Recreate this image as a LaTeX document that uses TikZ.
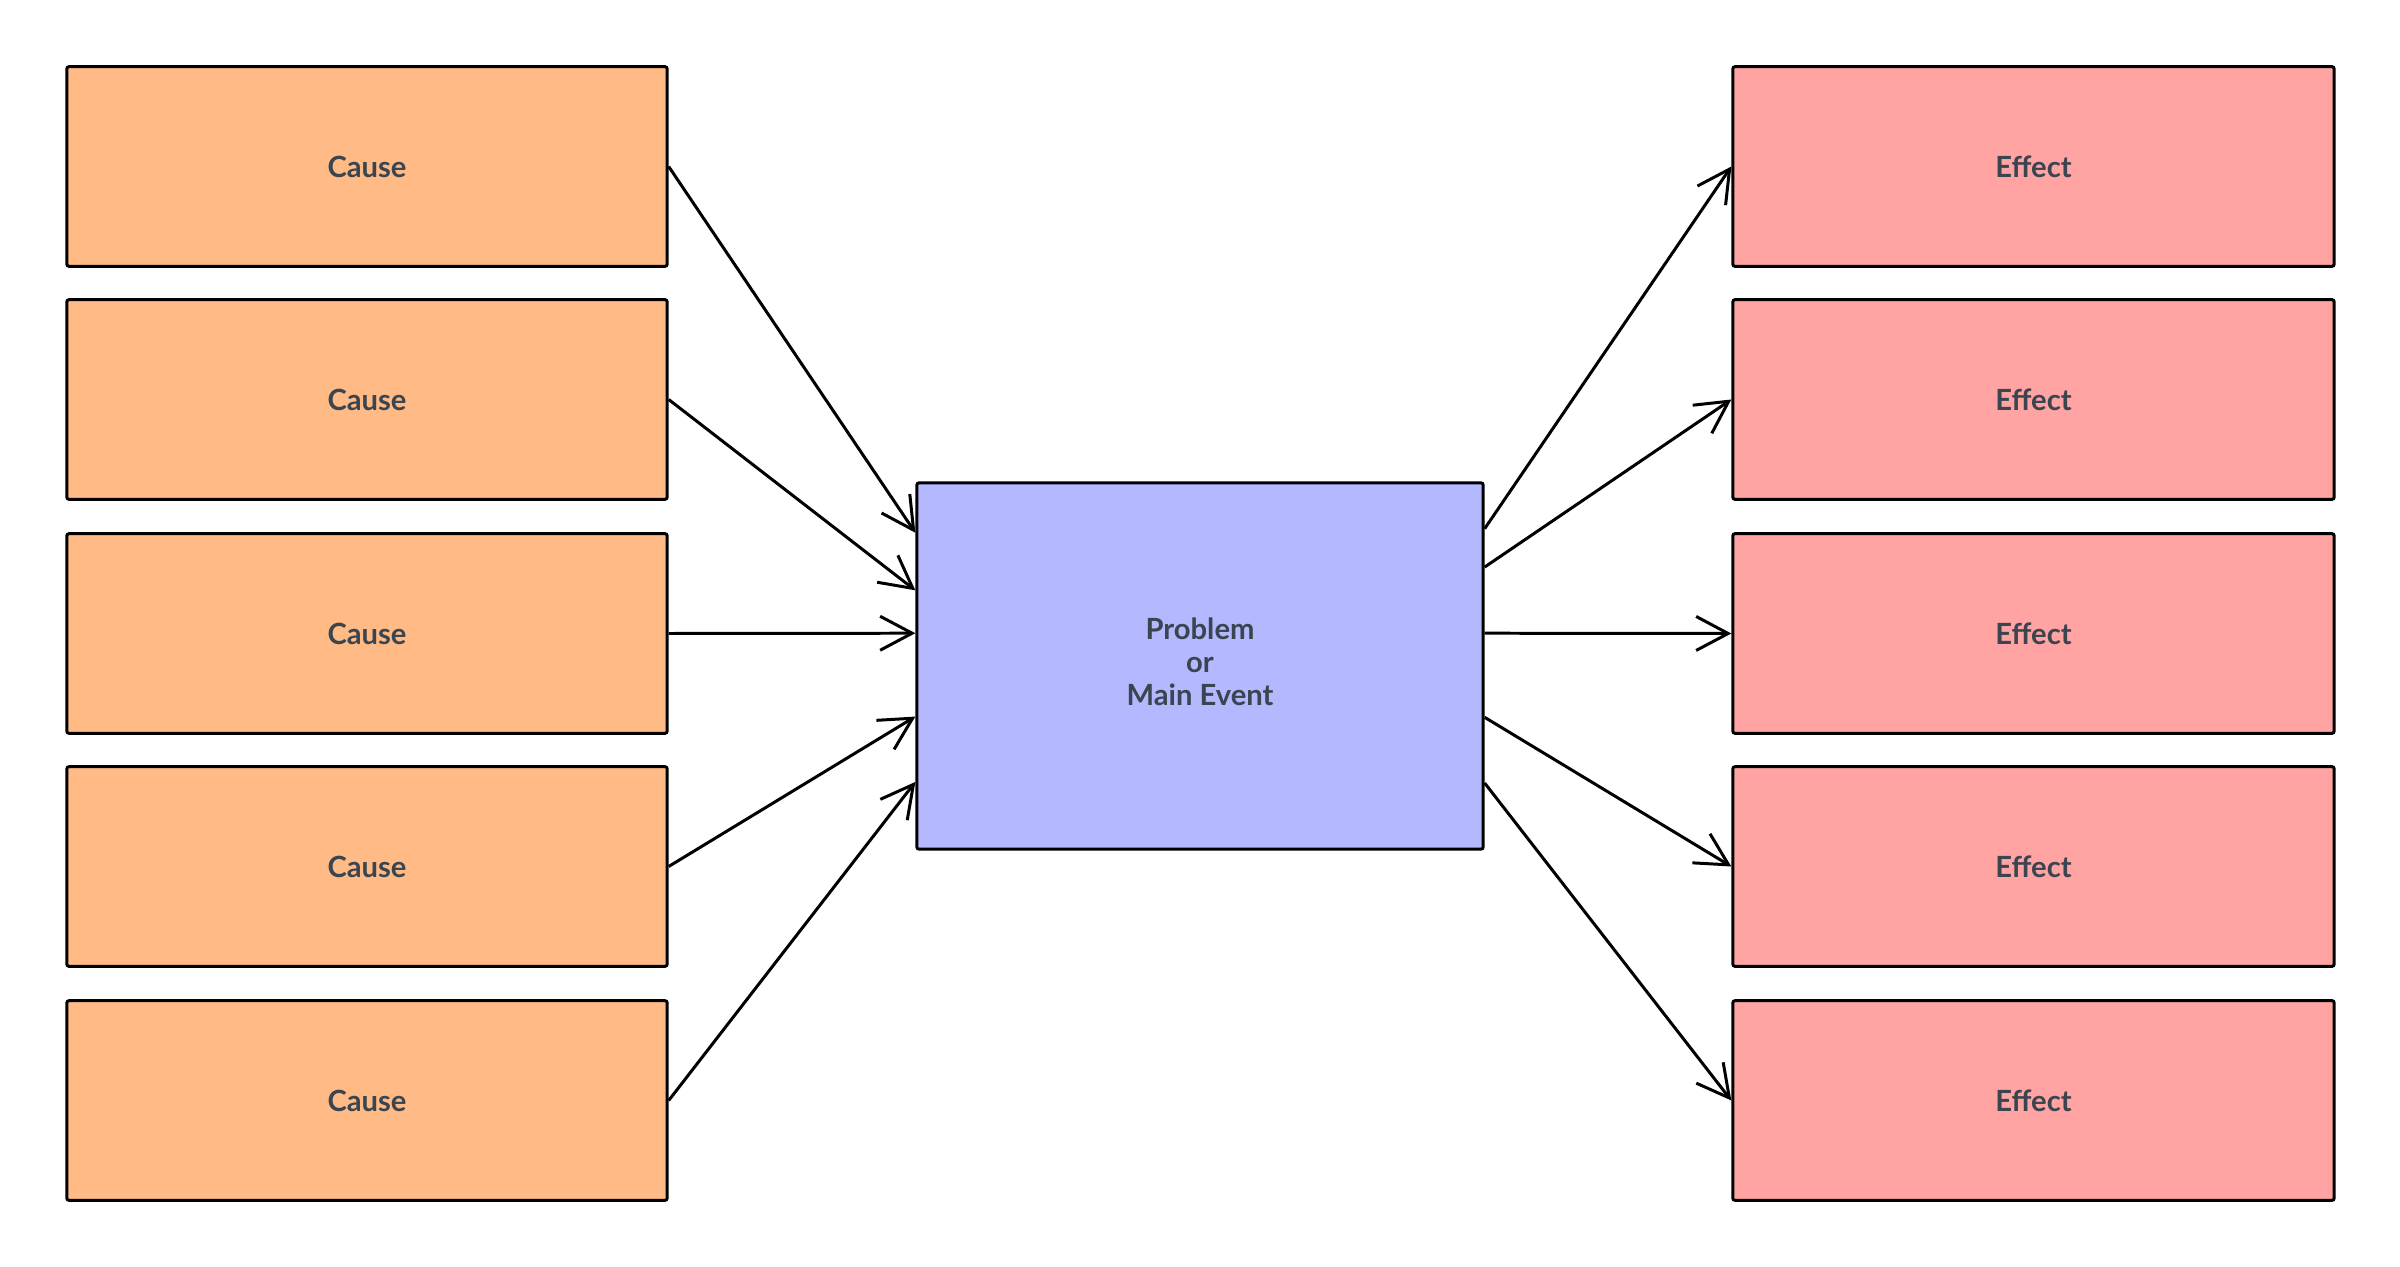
\documentclass[tikz,border=0pt]{standalone}
\usepackage{fontspec}
\setmainfont{Lato}[BoldFont={Lato Bold}]
\usetikzlibrary{arrows.meta,calc}
\definecolor{causefill}{HTML}{FFBA85}
\definecolor{effectfill}{HTML}{FFA3A3}
\definecolor{mainfill}{HTML}{B4B8FF}
\definecolor{txt}{HTML}{3A4550}
\tikzset{
  box/.style={draw=black, line width=0.85pt, rounded corners=0.6pt, inner sep=0pt,
    font=\fontsize{8.3}{9.3}\selectfont\bfseries, text=txt, align=center},
  causebox/.style={box, fill=causefill, minimum width=6cm, minimum height=1.995cm},
  effectbox/.style={box, fill=effectfill, minimum width=6.01cm, minimum height=1.995cm},
  mainbox/.style={box, fill=mainfill, minimum width=5.66cm, minimum height=3.66cm},
  conn/.style={draw=black, line width=0.85pt, -{Straight Barb[length=0.32cm, width=0.34cm, line width=0.85pt]}}
}
\begin{document}
\begin{tikzpicture}[x=0.01cm, y=-0.01cm]
\useasboundingbox (0,0) rectangle (2400,1267);
% causes
\node[causebox] (c1) at (367,166.5) {Cause};
\node[causebox] (c2) at (367,399.5) {Cause};
\node[causebox] (c3) at (367,633.5) {Cause};
\node[causebox] (c4) at (367,866.5) {Cause};
\node[causebox] (c5) at (367,1100.5) {Cause};
% main
\node[mainbox] (m) at (1200,666) {Problem\\or\\Main Event\rule[-2.5pt]{0pt}{0pt}};
% effects
\node[effectbox] (e1) at (2033.5,166.5) {Effect};
\node[effectbox] (e2) at (2033.5,399.5) {Effect};
\node[effectbox] (e3) at (2033.5,633.5) {Effect};
\node[effectbox] (e4) at (2033.5,866.5) {Effect};
\node[effectbox] (e5) at (2033.5,1100.5) {Effect};
% arrows in
\draw[conn] (c1.east) -- ($(m.north west)!0.139!(m.south west)$);
\draw[conn] (c2.east) -- ($(m.north west)!0.295!(m.south west)$);
\draw[conn] (c3.east) -- ($(m.north west)!0.4112!(m.south west)$);
\draw[conn] (c4.east) -- ($(m.north west)!0.637!(m.south west)$);
\draw[conn] (c5.east) -- ($(m.north west)!0.814!(m.south west)$);
% arrows out
\draw[conn] ($(m.north east)!0.128!(m.south east)$) -- (e1.west);
\draw[conn] ($(m.north east)!0.232!(m.south east)$) -- (e2.west);
\draw[conn] ($(m.north east)!0.4112!(m.south east)$) -- (e3.west);
\draw[conn] ($(m.north east)!0.639!(m.south east)$) -- (e4.west);
\draw[conn] ($(m.north east)!0.817!(m.south east)$) -- (e5.west);
\end{tikzpicture}
\end{document}
